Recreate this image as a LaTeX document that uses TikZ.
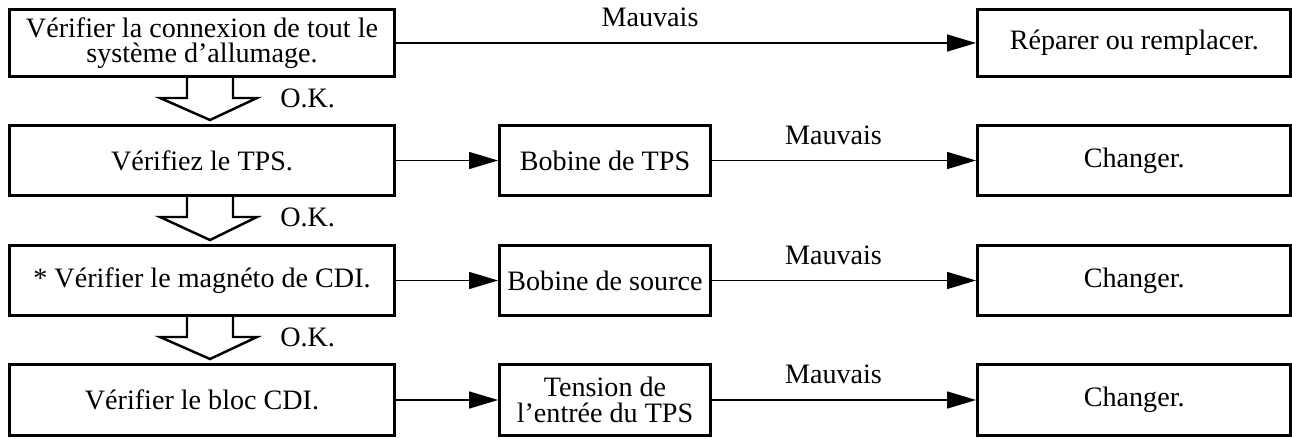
\documentclass[tikz,border=0pt]{standalone}
\usepackage{fontspec}
\setmainfont{Liberation Serif}
\usetikzlibrary{arrows.meta, calc}
\newcommand\flowfont{\fontsize{16}{14.5}\selectfont}

\begin{document}
\begin{tikzpicture}[
    x=0.02cm, y=-0.02cm,
    box/.style     = {draw, line width=1.7pt, inner sep=0pt, minimum height=1.4cm, align=center, font=\flowfont},
    chk/.style     = {box, minimum width=7.7cm},
    part/.style    = {box, minimum width=4.22cm},
    fix/.style     = {box, minimum width=6.27cm},
    bad/.style     = {font=\flowfont, inner sep=0pt, above=0.3cm},
    ok/.style      = {font=\flowfont, inner sep=0pt, anchor=base west},
    go/.style      = {-{Triangle[length=0.58cm, width=0.34cm]}, line width=0.85pt},
    okarrow/.style = {line width=1.4pt, line join=miter}
  ]
  \useasboundingbox (0,0) rectangle (1292,439);

  % left column: checks
  \node[chk, minimum height=1.34cm] (c1) at (202,43)  {Vérifier la connexion de tout le\\ système d’allumage.};
  \node[chk] (c2) at (202,160.5) {Vérifiez le TPS.};
  \node[chk] (c3) at (202,280.5) {* Vérifier le magnéto de CDI.};
  \node[chk, minimum height=1.42cm] (c4) at (202,400) {Vérifier le bloc CDI.};

  % middle column: parts
  \node[part] (p2) at (605,160.5) {Bobine de TPS};
  \node[part] (p3) at (605,280.5) {Bobine de source};
  \node[part, minimum height=1.42cm] (p4) at (605,400) {Tension de\\ l’entrée du TPS};

  % right column: remedies
  \node[fix, minimum height=1.34cm] (f1) at (1134.25,43) {Réparer ou remplacer.};
  \node[fix] (f2) at (1134.25,160.5) {Changer.};
  \node[fix] (f3) at (1134.25,280.5) {Changer.};
  \node[fix, minimum height=1.42cm] (f4) at (1134.25,400) {Changer.};

  % O.K. block arrows
  \foreach \a/\b in {c1/c2, c2/c3, c3/c4}{
    \draw[okarrow] ($(\a.south)+(-15,0)$) -- ++(0,20) -- ++(-27,0)
      -- ($(\b.north)+(8,-4)$) -- ($(\a.south)+(55,20)$) -- ++(-24,0) -- ++(0,-20);
    \node[ok] (ok\a) at ($(\a.south)+(78,30)$) {O.K.};
  }

  % arrows
  \draw[go] (c1) -- node[bad, pos=0.438] (m1) {Mauvais} (f1);
  \foreach \i in {2,3,4}{
    \draw[go] (c\i) -- (p\i);
    \draw[go] (p\i) -- node[bad, pos=0.46] (m\i) {Mauvais} (f\i);
  }
\end{tikzpicture}
\end{document}
